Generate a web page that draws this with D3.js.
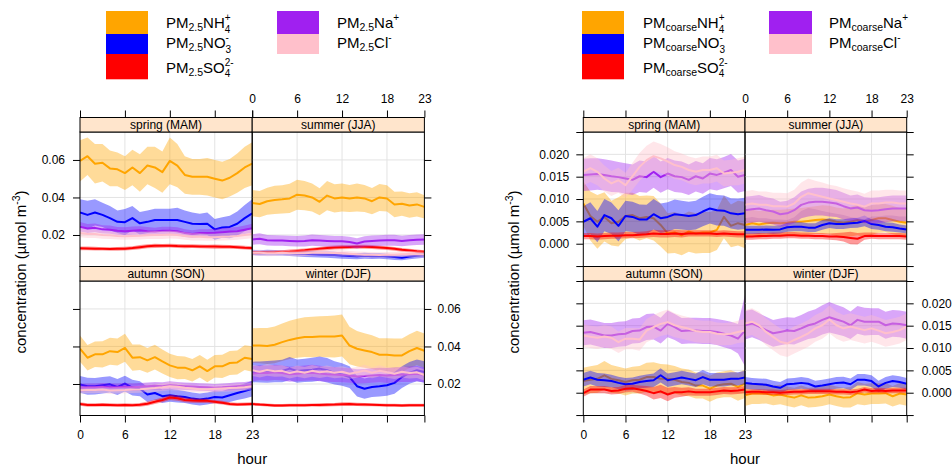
<!DOCTYPE html>
<html><head><meta charset="utf-8">
<script src="https://cdn.jsdelivr.net/npm/d3@7"></script>
<style>body{margin:0;background:#fff} svg{font-family:"Liberation Sans",Arial,sans-serif}</style>
</head><body><svg id="c" width="952" height="466"></svg>
<script>
// ---------------- categories / ticks ----------------
const seasonNames = ["spring (MAM)", "summer (JJA)", "autumn (SON)", "winter (DJF)"];
const seasonKeys = ["spr", "sum", "aut", "win"];
const ions = ["NH4", "NO3", "SO4", "Na", "Cl"];
const ionColors = ["#FFA500", "#0000FF", "#FF0000", "#A020F0", "#FFC0CB"];
const hours = d3.range(24);
const hourTicks = [0, 6, 12, 18, 23];
const fineTicks = [0.02, 0.04, 0.06];
const fineTickLabels = ["0.02", "0.04", "0.06"];
const coarseTicks = [-0.005, 0, 0.005, 0.01, 0.015, 0.02, 0.025];
const coarseTickLabels = ["", "0.000", "0.005", "0.010", "0.015", "0.020", ""];

// ---------------- PM2.5 (fine) : mean and half-width of band ----------------
const f_spr_NH4 = [0.0595,0.0620,0.0580,0.0585,0.0555,0.0550,0.0530,0.0560,0.0530,0.0570,0.0560,0.0535,0.0595,0.0570,0.0520,0.0510,0.0510,0.0510,0.0500,0.0490,0.0505,0.0530,0.0560,0.0580];
const f_spr_NH4_ci = [0.0110,0.0100,0.0105,0.0100,0.0095,0.0090,0.0090,0.0095,0.0100,0.0100,0.0110,0.0110,0.0125,0.0115,0.0100,0.0095,0.0095,0.0100,0.0100,0.0100,0.0100,0.0105,0.0110,0.0115];
const f_spr_NO3 = [0.0320,0.0307,0.0320,0.0307,0.0290,0.0270,0.0268,0.0290,0.0262,0.0270,0.0280,0.0280,0.0280,0.0280,0.0270,0.0260,0.0258,0.0260,0.0230,0.0240,0.0243,0.0260,0.0290,0.0315];
const f_spr_NO3_ci = [0.0070,0.0075,0.0070,0.0065,0.0065,0.0060,0.0070,0.0065,0.0060,0.0060,0.0060,0.0060,0.0060,0.0065,0.0060,0.0060,0.0055,0.0060,0.0055,0.0055,0.0060,0.0065,0.0070,0.0075];
const f_spr_SO4 = [0.0129,0.0128,0.0127,0.0126,0.0125,0.0126,0.0127,0.0130,0.0135,0.0140,0.0142,0.0142,0.0143,0.0141,0.0140,0.0140,0.0139,0.0138,0.0138,0.0137,0.0137,0.0135,0.0132,0.0130];
const f_spr_SO4_ci = [0.0010,0.0010,0.0010,0.0009,0.0009,0.0010,0.0010,0.0010,0.0011,0.0011,0.0011,0.0010,0.0010,0.0011,0.0011,0.0010,0.0010,0.0010,0.0011,0.0011,0.0010,0.0010,0.0010,0.0010];
const f_spr_Na = [0.0244,0.0235,0.0238,0.0230,0.0228,0.0222,0.0220,0.0223,0.0225,0.0220,0.0218,0.0222,0.0222,0.0220,0.0210,0.0205,0.0210,0.0210,0.0212,0.0215,0.0218,0.0220,0.0228,0.0236];
const f_spr_Na_ci = [0.0025,0.0024,0.0023,0.0022,0.0022,0.0021,0.0021,0.0022,0.0022,0.0022,0.0021,0.0022,0.0022,0.0021,0.0021,0.0020,0.0021,0.0021,0.0021,0.0022,0.0022,0.0022,0.0023,0.0024];
const f_spr_Cl = [0.0210,0.0205,0.0205,0.0200,0.0198,0.0195,0.0193,0.0195,0.0196,0.0198,0.0200,0.0200,0.0202,0.0200,0.0195,0.0190,0.0190,0.0188,0.0188,0.0190,0.0192,0.0195,0.0200,0.0205];
const f_spr_Cl_ci = [0.0022,0.0021,0.0021,0.0020,0.0020,0.0019,0.0019,0.0019,0.0020,0.0020,0.0021,0.0021,0.0021,0.0020,0.0020,0.0019,0.0019,0.0019,0.0019,0.0019,0.0020,0.0020,0.0021,0.0022];

const f_sum_NH4 = [0.0370,0.0365,0.0380,0.0387,0.0390,0.0395,0.0415,0.0410,0.0400,0.0377,0.0410,0.0395,0.0400,0.0395,0.0400,0.0395,0.0380,0.0400,0.0395,0.0363,0.0367,0.0357,0.0363,0.0350];
const f_sum_NH4_ci = [0.0070,0.0070,0.0072,0.0075,0.0075,0.0078,0.0080,0.0078,0.0075,0.0072,0.0078,0.0075,0.0075,0.0072,0.0075,0.0072,0.0070,0.0072,0.0070,0.0068,0.0065,0.0065,0.0065,0.0062];
const f_sum_NO3 = [0.0107,0.0105,0.0106,0.0105,0.0104,0.0102,0.0100,0.0098,0.0097,0.0096,0.0095,0.0093,0.0090,0.0088,0.0086,0.0089,0.0087,0.0088,0.0085,0.0082,0.0079,0.0085,0.0089,0.0092];
const f_sum_NO3_ci = [0.0014,0.0014,0.0015,0.0015,0.0014,0.0014,0.0015,0.0015,0.0016,0.0016,0.0017,0.0017,0.0017,0.0016,0.0016,0.0016,0.0015,0.0015,0.0015,0.0015,0.0014,0.0014,0.0014,0.0014];
const f_sum_SO4 = [0.0106,0.0106,0.0107,0.0108,0.0110,0.0112,0.0115,0.0118,0.0122,0.0126,0.0130,0.0133,0.0135,0.0136,0.0137,0.0137,0.0136,0.0133,0.0130,0.0126,0.0121,0.0117,0.0113,0.0110];
const f_sum_SO4_ci = [0.0009,0.0009,0.0009,0.0009,0.0009,0.0010,0.0010,0.0010,0.0010,0.0010,0.0011,0.0011,0.0011,0.0011,0.0011,0.0011,0.0011,0.0010,0.0010,0.0010,0.0010,0.0009,0.0009,0.0009];
const f_sum_Na = [0.0176,0.0180,0.0172,0.0170,0.0170,0.0168,0.0166,0.0168,0.0172,0.0170,0.0168,0.0166,0.0166,0.0163,0.0155,0.0165,0.0168,0.0170,0.0172,0.0172,0.0168,0.0172,0.0175,0.0176];
const f_sum_Na_ci = [0.0028,0.0029,0.0028,0.0028,0.0027,0.0028,0.0028,0.0029,0.0030,0.0030,0.0029,0.0029,0.0028,0.0028,0.0027,0.0028,0.0029,0.0029,0.0029,0.0029,0.0028,0.0028,0.0028,0.0028];
const f_sum_Cl = [0.0105,0.0105,0.0103,0.0103,0.0105,0.0103,0.0102,0.0103,0.0105,0.0106,0.0105,0.0104,0.0102,0.0100,0.0097,0.0095,0.0094,0.0093,0.0094,0.0095,0.0097,0.0098,0.0097,0.0096];
const f_sum_Cl_ci = [0.0016,0.0016,0.0016,0.0015,0.0015,0.0015,0.0015,0.0016,0.0016,0.0016,0.0016,0.0016,0.0016,0.0015,0.0015,0.0015,0.0015,0.0015,0.0015,0.0015,0.0015,0.0016,0.0016,0.0016];

const f_aut_NH4 = [0.0388,0.0340,0.0358,0.0358,0.0375,0.0370,0.0393,0.0340,0.0343,0.0326,0.0343,0.0320,0.0299,0.0287,0.0287,0.0273,0.0294,0.0269,0.0294,0.0294,0.0312,0.0315,0.0340,0.0333];
const f_aut_NH4_ci = [0.0070,0.0068,0.0068,0.0070,0.0072,0.0072,0.0075,0.0070,0.0068,0.0066,0.0066,0.0064,0.0062,0.0062,0.0060,0.0060,0.0060,0.0060,0.0060,0.0062,0.0064,0.0064,0.0066,0.0068];
const f_aut_NO3 = [0.0198,0.0188,0.0188,0.0193,0.0198,0.0184,0.0202,0.0181,0.0175,0.0144,0.0152,0.0135,0.0140,0.0135,0.0131,0.0122,0.0117,0.0122,0.0131,0.0128,0.0140,0.0152,0.0163,0.0175];
const f_aut_NO3_ci = [0.0045,0.0045,0.0044,0.0044,0.0043,0.0043,0.0042,0.0042,0.0040,0.0040,0.0038,0.0036,0.0035,0.0034,0.0032,0.0032,0.0032,0.0032,0.0033,0.0034,0.0036,0.0038,0.0040,0.0042];
const f_aut_SO4 = [0.0093,0.0088,0.0088,0.0089,0.0088,0.0087,0.0088,0.0087,0.0089,0.0095,0.0105,0.0115,0.0128,0.0124,0.0115,0.0112,0.0110,0.0110,0.0105,0.0100,0.0093,0.0091,0.0092,0.0093];
const f_aut_SO4_ci = [0.0009,0.0009,0.0009,0.0009,0.0009,0.0009,0.0009,0.0009,0.0010,0.0011,0.0012,0.0013,0.0014,0.0014,0.0013,0.0012,0.0011,0.0011,0.0010,0.0010,0.0009,0.0009,0.0009,0.0009];
const f_aut_Na = [0.0180,0.0182,0.0183,0.0185,0.0183,0.0182,0.0185,0.0183,0.0185,0.0188,0.0190,0.0188,0.0193,0.0190,0.0188,0.0186,0.0184,0.0182,0.0180,0.0182,0.0185,0.0188,0.0190,0.0195];
const f_aut_Na_ci = [0.0021,0.0021,0.0020,0.0020,0.0020,0.0020,0.0020,0.0020,0.0020,0.0020,0.0021,0.0021,0.0021,0.0021,0.0020,0.0020,0.0020,0.0020,0.0020,0.0020,0.0020,0.0021,0.0021,0.0021];
const f_aut_Cl = [0.0167,0.0168,0.0168,0.0170,0.0165,0.0167,0.0168,0.0170,0.0172,0.0175,0.0178,0.0182,0.0188,0.0185,0.0180,0.0176,0.0172,0.0172,0.0174,0.0176,0.0178,0.0180,0.0183,0.0188];
const f_aut_Cl_ci = [0.0018,0.0018,0.0018,0.0018,0.0018,0.0018,0.0018,0.0018,0.0019,0.0019,0.0020,0.0020,0.0021,0.0020,0.0019,0.0019,0.0018,0.0018,0.0018,0.0018,0.0018,0.0019,0.0019,0.0019];

const f_win_NH4 = [0.0405,0.0405,0.0402,0.0409,0.0423,0.0435,0.0444,0.0450,0.0450,0.0453,0.0453,0.0453,0.0458,0.0405,0.0388,0.0379,0.0370,0.0356,0.0356,0.0352,0.0352,0.0375,0.0392,0.0377];
const f_win_NH4_ci = [0.0092,0.0094,0.0096,0.0098,0.0100,0.0102,0.0104,0.0106,0.0108,0.0108,0.0110,0.0112,0.0112,0.0100,0.0095,0.0092,0.0090,0.0088,0.0088,0.0090,0.0090,0.0090,0.0092,0.0092];
const f_win_NO3 = [0.0264,0.0264,0.0264,0.0267,0.0269,0.0282,0.0269,0.0273,0.0276,0.0282,0.0273,0.0259,0.0250,0.0237,0.0188,0.0175,0.0184,0.0188,0.0193,0.0206,0.0237,0.0259,0.0273,0.0264];
const f_win_NO3_ci = [0.0055,0.0056,0.0058,0.0058,0.0060,0.0062,0.0062,0.0062,0.0064,0.0065,0.0065,0.0062,0.0060,0.0058,0.0055,0.0054,0.0054,0.0055,0.0056,0.0058,0.0058,0.0058,0.0058,0.0057];
const f_win_SO4 = [0.0093,0.0090,0.0088,0.0085,0.0085,0.0086,0.0087,0.0087,0.0088,0.0088,0.0089,0.0090,0.0092,0.0093,0.0091,0.0090,0.0089,0.0088,0.0087,0.0086,0.0085,0.0086,0.0087,0.0087];
const f_win_SO4_ci = [0.0008,0.0008,0.0008,0.0008,0.0008,0.0008,0.0008,0.0008,0.0008,0.0009,0.0009,0.0009,0.0010,0.0010,0.0009,0.0009,0.0008,0.0008,0.0008,0.0008,0.0008,0.0008,0.0008,0.0008];
const f_win_Na = [0.0255,0.0260,0.0258,0.0262,0.0258,0.0252,0.0255,0.0258,0.0260,0.0256,0.0252,0.0250,0.0248,0.0245,0.0240,0.0242,0.0245,0.0248,0.0245,0.0248,0.0250,0.0252,0.0255,0.0248];
const f_win_Na_ci = [0.0040,0.0040,0.0041,0.0041,0.0040,0.0040,0.0040,0.0041,0.0042,0.0041,0.0040,0.0040,0.0039,0.0039,0.0038,0.0038,0.0039,0.0039,0.0040,0.0040,0.0040,0.0041,0.0041,0.0040];
const f_win_Cl = [0.0273,0.0265,0.0275,0.0268,0.0270,0.0258,0.0268,0.0260,0.0270,0.0262,0.0268,0.0260,0.0265,0.0255,0.0262,0.0272,0.0260,0.0270,0.0262,0.0255,0.0265,0.0258,0.0262,0.0248];
const f_win_Cl_ci = [0.0030,0.0030,0.0031,0.0030,0.0030,0.0029,0.0030,0.0030,0.0031,0.0030,0.0030,0.0029,0.0030,0.0029,0.0029,0.0030,0.0029,0.0030,0.0029,0.0029,0.0030,0.0029,0.0030,0.0029];

// ---------------- PMcoarse : mean and half-width of band ----------------
const c_spr_NH4 = [0.0090,0.0062,0.0049,0.0060,0.0046,0.0049,0.0062,0.0064,0.0057,0.0060,0.0057,0.0042,0.0023,0.0025,0.0019,0.0027,0.0023,0.0025,0.0025,0.0031,0.0060,0.0040,0.0046,0.0042];
const c_spr_NH4_ci = [0.0050,0.0055,0.0060,0.0055,0.0050,0.0055,0.0052,0.0050,0.0050,0.0048,0.0050,0.0048,0.0045,0.0046,0.0045,0.0045,0.0045,0.0046,0.0046,0.0045,0.0048,0.0048,0.0050,0.0052];
const c_spr_NO3 = [0.0049,0.0057,0.0038,0.0064,0.0057,0.0040,0.0062,0.0060,0.0054,0.0054,0.0066,0.0057,0.0060,0.0066,0.0064,0.0062,0.0064,0.0072,0.0079,0.0075,0.0074,0.0068,0.0066,0.0068];
const c_spr_NO3_ci = [0.0035,0.0036,0.0035,0.0036,0.0035,0.0035,0.0034,0.0034,0.0034,0.0033,0.0034,0.0033,0.0033,0.0033,0.0032,0.0032,0.0032,0.0033,0.0034,0.0034,0.0034,0.0034,0.0035,0.0035];
const c_spr_SO4 = [0.0017,0.0017,0.0016,0.0017,0.0018,0.0018,0.0019,0.0019,0.0020,0.0021,0.0023,0.0022,0.0022,0.0023,0.0022,0.0023,0.0023,0.0023,0.0023,0.0022,0.0023,0.0022,0.0021,0.0021];
const c_spr_SO4_ci = [0.0007,0.0007,0.0007,0.0007,0.0007,0.0007,0.0007,0.0007,0.0007,0.0007,0.0008,0.0008,0.0008,0.0008,0.0008,0.0007,0.0007,0.0007,0.0007,0.0007,0.0007,0.0007,0.0007,0.0007];
const c_spr_Na = [0.0154,0.0155,0.0156,0.0154,0.0151,0.0149,0.0146,0.0143,0.0151,0.0149,0.0161,0.0149,0.0157,0.0151,0.0149,0.0143,0.0151,0.0146,0.0157,0.0154,0.0159,0.0165,0.0150,0.0154];
const c_spr_Na_ci = [0.0036,0.0036,0.0035,0.0035,0.0035,0.0034,0.0034,0.0034,0.0035,0.0035,0.0036,0.0035,0.0035,0.0035,0.0035,0.0034,0.0034,0.0034,0.0035,0.0035,0.0035,0.0036,0.0036,0.0036];
const c_spr_Cl = [0.0161,0.0169,0.0161,0.0146,0.0135,0.0142,0.0131,0.0151,0.0172,0.0187,0.0196,0.0191,0.0184,0.0176,0.0172,0.0165,0.0161,0.0165,0.0165,0.0169,0.0157,0.0159,0.0161,0.0165];
const c_spr_Cl_ci = [0.0030,0.0031,0.0030,0.0029,0.0028,0.0028,0.0028,0.0030,0.0031,0.0032,0.0033,0.0032,0.0032,0.0031,0.0030,0.0030,0.0030,0.0030,0.0030,0.0030,0.0029,0.0029,0.0030,0.0030];

const c_sum_NH4 = [0.0042,0.0046,0.0043,0.0046,0.0047,0.0046,0.0047,0.0049,0.0049,0.0051,0.0053,0.0054,0.0053,0.0049,0.0047,0.0049,0.0053,0.0049,0.0053,0.0057,0.0057,0.0053,0.0049,0.0047];
const c_sum_NH4_ci = [0.0030,0.0030,0.0030,0.0029,0.0029,0.0030,0.0030,0.0030,0.0031,0.0031,0.0031,0.0032,0.0032,0.0032,0.0032,0.0033,0.0034,0.0034,0.0033,0.0033,0.0032,0.0032,0.0031,0.0031];
const c_sum_NO3 = [0.0031,0.0031,0.0031,0.0032,0.0031,0.0032,0.0037,0.0038,0.0038,0.0036,0.0036,0.0042,0.0046,0.0044,0.0044,0.0046,0.0047,0.0051,0.0044,0.0042,0.0038,0.0037,0.0034,0.0032];
const c_sum_NO3_ci = [0.0009,0.0009,0.0009,0.0009,0.0009,0.0009,0.0010,0.0010,0.0010,0.0010,0.0010,0.0011,0.0011,0.0011,0.0011,0.0011,0.0011,0.0012,0.0011,0.0011,0.0010,0.0010,0.0009,0.0009];
const c_sum_SO4 = [0.0016,0.0016,0.0017,0.0017,0.0018,0.0018,0.0019,0.0019,0.0018,0.0018,0.0017,0.0017,0.0016,0.0016,0.0015,0.0013,0.0011,0.0017,0.0018,0.0017,0.0017,0.0017,0.0017,0.0016];
const c_sum_SO4_ci = [0.0007,0.0007,0.0007,0.0007,0.0007,0.0007,0.0007,0.0007,0.0007,0.0007,0.0007,0.0007,0.0007,0.0008,0.0010,0.0014,0.0013,0.0008,0.0007,0.0007,0.0007,0.0007,0.0007,0.0007];
const c_sum_Na = [0.0075,0.0077,0.0079,0.0075,0.0072,0.0066,0.0068,0.0075,0.0087,0.0092,0.0094,0.0094,0.0092,0.0090,0.0084,0.0079,0.0081,0.0075,0.0074,0.0075,0.0077,0.0079,0.0079,0.0079];
const c_sum_Na_ci = [0.0030,0.0030,0.0030,0.0029,0.0029,0.0028,0.0028,0.0029,0.0030,0.0031,0.0031,0.0031,0.0031,0.0030,0.0030,0.0029,0.0029,0.0029,0.0029,0.0029,0.0029,0.0029,0.0029,0.0029];
const c_sum_Cl = [0.0087,0.0090,0.0087,0.0087,0.0084,0.0084,0.0083,0.0090,0.0105,0.0113,0.0109,0.0105,0.0101,0.0098,0.0094,0.0090,0.0087,0.0083,0.0090,0.0090,0.0092,0.0092,0.0090,0.0090];
const c_sum_Cl_ci = [0.0030,0.0030,0.0030,0.0030,0.0030,0.0030,0.0030,0.0031,0.0032,0.0033,0.0032,0.0032,0.0031,0.0031,0.0030,0.0030,0.0030,0.0029,0.0029,0.0029,0.0029,0.0029,0.0029,0.0029];

const c_aut_NH4 = [0.0026,0.0029,0.0031,0.0039,0.0031,0.0028,0.0024,0.0028,0.0029,0.0035,0.0035,0.0031,0.0031,0.0029,0.0024,0.0022,0.0016,0.0016,0.0009,0.0016,0.0019,0.0020,0.0013,0.0020];
const c_aut_NH4_ci = [0.0030,0.0030,0.0031,0.0032,0.0031,0.0030,0.0030,0.0030,0.0031,0.0032,0.0033,0.0033,0.0032,0.0031,0.0030,0.0030,0.0029,0.0029,0.0029,0.0029,0.0029,0.0030,0.0031,0.0032];
const c_aut_NO3 = [0.0029,0.0034,0.0029,0.0028,0.0026,0.0022,0.0019,0.0020,0.0024,0.0026,0.0028,0.0039,0.0028,0.0031,0.0034,0.0031,0.0028,0.0035,0.0029,0.0029,0.0029,0.0031,0.0031,0.0034];
const c_aut_NO3_ci = [0.0015,0.0015,0.0015,0.0015,0.0014,0.0014,0.0014,0.0014,0.0014,0.0015,0.0015,0.0016,0.0015,0.0015,0.0015,0.0015,0.0015,0.0016,0.0015,0.0015,0.0015,0.0015,0.0015,0.0015];
const c_aut_SO4 = [-0.0001,0.0007,0.0007,0.0007,0.0004,0.0005,0.0009,0.0010,0.0007,0.0004,-0.0001,0.0003,-0.0004,0.0001,0.0001,0.0003,0.0001,0.0001,0.0001,0.0003,0.0005,0.0004,0.0005,0.0007];
const c_aut_SO4_ci = [0.0008,0.0008,0.0008,0.0008,0.0008,0.0008,0.0008,0.0008,0.0009,0.0011,0.0014,0.0015,0.0015,0.0012,0.0010,0.0009,0.0008,0.0008,0.0008,0.0008,0.0008,0.0008,0.0008,0.0008];
const c_aut_Na = [0.0134,0.0136,0.0132,0.0128,0.0128,0.0131,0.0132,0.0138,0.0139,0.0147,0.0148,0.0139,0.0154,0.0147,0.0138,0.0139,0.0139,0.0138,0.0138,0.0136,0.0132,0.0128,0.0121,0.0139];
const c_aut_Na_ci = [0.0028,0.0028,0.0028,0.0028,0.0028,0.0028,0.0028,0.0028,0.0028,0.0029,0.0029,0.0029,0.0030,0.0029,0.0029,0.0029,0.0029,0.0029,0.0029,0.0029,0.0030,0.0031,0.0033,0.0080];
const c_aut_Cl = [0.0128,0.0125,0.0123,0.0126,0.0123,0.0113,0.0121,0.0121,0.0119,0.0139,0.0147,0.0154,0.0158,0.0151,0.0147,0.0143,0.0138,0.0136,0.0136,0.0132,0.0131,0.0132,0.0136,0.0139];
const c_aut_Cl_ci = [0.0025,0.0025,0.0025,0.0025,0.0025,0.0024,0.0024,0.0024,0.0025,0.0026,0.0027,0.0027,0.0028,0.0027,0.0026,0.0026,0.0025,0.0025,0.0025,0.0025,0.0025,0.0025,0.0025,0.0026];

const c_win_NH4 = [-0.0006,-0.0002,-0.0002,-0.0002,-0.0006,-0.0004,-0.0008,-0.0011,-0.0006,-0.0011,-0.0010,-0.0008,-0.0004,-0.0008,-0.0011,-0.0010,-0.0001,-0.0004,-0.0002,-0.0002,-0.0001,-0.0008,-0.0002,-0.0004];
const c_win_NH4_ci = [0.0024,0.0023,0.0023,0.0022,0.0022,0.0022,0.0022,0.0022,0.0022,0.0022,0.0022,0.0022,0.0022,0.0022,0.0022,0.0023,0.0025,0.0024,0.0023,0.0023,0.0023,0.0023,0.0024,0.0025];
const c_win_NO3 = [0.0022,0.0020,0.0019,0.0018,0.0014,0.0011,0.0019,0.0020,0.0022,0.0020,0.0014,0.0016,0.0019,0.0022,0.0023,0.0019,0.0029,0.0029,0.0026,0.0014,0.0022,0.0026,0.0024,0.0020];
const c_win_NO3_ci = [0.0013,0.0013,0.0013,0.0013,0.0013,0.0013,0.0013,0.0013,0.0013,0.0013,0.0013,0.0013,0.0013,0.0013,0.0013,0.0013,0.0013,0.0013,0.0013,0.0013,0.0013,0.0013,0.0013,0.0013];
const c_win_SO4 = [0.0001,0.0002,0.0002,0.0001,0.0001,0.0000,0.0001,0.0002,0.0002,0.0003,0.0003,0.0003,0.0003,0.0002,0.0002,0.0001,0.0003,0.0007,0.0004,0.0005,0.0004,0.0005,0.0005,0.0005];
const c_win_SO4_ci = [0.0006,0.0006,0.0006,0.0006,0.0006,0.0006,0.0006,0.0006,0.0006,0.0006,0.0006,0.0006,0.0006,0.0006,0.0006,0.0006,0.0006,0.0006,0.0006,0.0006,0.0006,0.0006,0.0006,0.0006];
const c_win_Na = [0.0151,0.0155,0.0148,0.0140,0.0133,0.0136,0.0139,0.0138,0.0144,0.0151,0.0155,0.0163,0.0169,0.0164,0.0159,0.0151,0.0163,0.0159,0.0159,0.0159,0.0151,0.0155,0.0154,0.0151];
const c_win_Na_ci = [0.0032,0.0031,0.0030,0.0030,0.0030,0.0030,0.0030,0.0030,0.0030,0.0031,0.0032,0.0033,0.0034,0.0033,0.0032,0.0031,0.0031,0.0031,0.0030,0.0030,0.0030,0.0030,0.0030,0.0030];
const c_win_Cl = [0.0155,0.0159,0.0151,0.0136,0.0125,0.0114,0.0110,0.0118,0.0125,0.0133,0.0144,0.0151,0.0164,0.0151,0.0144,0.0148,0.0144,0.0140,0.0144,0.0139,0.0133,0.0136,0.0140,0.0148];
const c_win_Cl_ci = [0.0030,0.0030,0.0030,0.0030,0.0030,0.0030,0.0030,0.0030,0.0030,0.0030,0.0030,0.0030,0.0031,0.0030,0.0030,0.0030,0.0030,0.0030,0.0030,0.0030,0.0030,0.0030,0.0030,0.0030];

// lookup tables built from the named arrays
const fineTable = {
  spr: [[f_spr_NH4,f_spr_NH4_ci],[f_spr_NO3,f_spr_NO3_ci],[f_spr_SO4,f_spr_SO4_ci],[f_spr_Na,f_spr_Na_ci],[f_spr_Cl,f_spr_Cl_ci]],
  sum: [[f_sum_NH4,f_sum_NH4_ci],[f_sum_NO3,f_sum_NO3_ci],[f_sum_SO4,f_sum_SO4_ci],[f_sum_Na,f_sum_Na_ci],[f_sum_Cl,f_sum_Cl_ci]],
  aut: [[f_aut_NH4,f_aut_NH4_ci],[f_aut_NO3,f_aut_NO3_ci],[f_aut_SO4,f_aut_SO4_ci],[f_aut_Na,f_aut_Na_ci],[f_aut_Cl,f_aut_Cl_ci]],
  win: [[f_win_NH4,f_win_NH4_ci],[f_win_NO3,f_win_NO3_ci],[f_win_SO4,f_win_SO4_ci],[f_win_Na,f_win_Na_ci],[f_win_Cl,f_win_Cl_ci]]
};
const coarseTable = {
  spr: [[c_spr_NH4,c_spr_NH4_ci],[c_spr_NO3,c_spr_NO3_ci],[c_spr_SO4,c_spr_SO4_ci],[c_spr_Na,c_spr_Na_ci],[c_spr_Cl,c_spr_Cl_ci]],
  sum: [[c_sum_NH4,c_sum_NH4_ci],[c_sum_NO3,c_sum_NO3_ci],[c_sum_SO4,c_sum_SO4_ci],[c_sum_Na,c_sum_Na_ci],[c_sum_Cl,c_sum_Cl_ci]],
  aut: [[c_aut_NH4,c_aut_NH4_ci],[c_aut_NO3,c_aut_NO3_ci],[c_aut_SO4,c_aut_SO4_ci],[c_aut_Na,c_aut_Na_ci],[c_aut_Cl,c_aut_Cl_ci]],
  win: [[c_win_NH4,c_win_NH4_ci],[c_win_NO3,c_win_NO3_ci],[c_win_SO4,c_win_SO4_ci],[c_win_Na,c_win_Na_ci],[c_win_Cl,c_win_Cl_ci]]
};

const ionLabels = [
  {base: "NH", sub: "4", sup: "+"},
  {base: "NO", sub: "3", sup: "-"},
  {base: "SO", sub: "4", sup: "2-"},
  {base: "Na", sub: "", sup: "+"},
  {base: "Cl", sub: "", sup: "-"}
];

// ---------------- drawing ----------------
const svg = d3.select("#c");
const FONT = "'Liberation Sans', Arial, sans-serif";
const rowTops = [117.5, 266.5];
const stripH = 14.5, plotH = 134.5;
let clipId = 0;

function styleAxis(g, size) {
  g.select(".domain").remove();
  g.selectAll("line").attr("stroke", "#000").attr("stroke-width", 1);
  g.selectAll("text").attr("font-family", FONT).attr("font-size", size).attr("fill", "#000");
}

function drawPlot(cfg) {
  const g = svg.append("g");
  const xs = [0, 1].map(c => d3.scaleLinear().domain([0, 23]).range([cfg.x0 + c * cfg.pw, cfg.x0 + (c + 1) * cfg.pw]));
  const ys = [0, 1].map(r => d3.scaleLinear().domain(cfg.yDomain)
      .range([rowTops[r] + stripH + plotH, rowTops[r] + stripH]));
  const fmtFor = labels => (d) => labels[cfg.yTicks.indexOf(d)];
  const blank = () => "";

  seasonKeys.forEach((sk, si) => {
    const r = Math.floor(si / 2), c = si % 2;
    const x = xs[c], y = ys[r];
    const px0 = x.range()[0], px1 = x.range()[1];
    const py0 = y.range()[1], py1 = y.range()[0];
    const pg = g.append("g");
    const id = "clip" + (clipId++);
    pg.append("clipPath").attr("id", id).append("rect")
      .attr("x", px0).attr("y", py0).attr("width", px1 - px0).attr("height", py1 - py0);
    const grid = pg.append("g").attr("clip-path", `url(#${id})`);
    grid.selectAll("line.v").data([6, 12, 18]).join("line")
      .attr("x1", d => x(d)).attr("x2", d => x(d)).attr("y1", py0).attr("y2", py1)
      .attr("stroke", "#e3e3e3").attr("stroke-width", 1);
    grid.selectAll("line.h").data(cfg.gridTicks).join("line")
      .attr("x1", px0).attr("x2", px1).attr("y1", d => y(d)).attr("y2", d => y(d))
      .attr("stroke", "#e3e3e3").attr("stroke-width", 1);
    const marks = pg.append("g").attr("clip-path", `url(#${id})`);
    cfg.table[sk].forEach(([m, ci], k) => {
      const area = d3.area().x(h => x(h)).y0(h => y(m[h] - ci[h])).y1(h => y(m[h] + ci[h]));
      const line = d3.line().x(h => x(h)).y(h => y(m[h]));
      marks.append("path").attr("d", area(hours)).attr("fill", ionColors[k]).attr("fill-opacity", 0.4);
      marks.append("path").attr("d", line(hours)).attr("fill", "none").attr("stroke", ionColors[k])
        .attr("stroke-width", 2).attr("stroke-linejoin", "round");
    });
    pg.append("rect").attr("x", px0).attr("y", py0).attr("width", px1 - px0).attr("height", py1 - py0)
      .attr("fill", "none").attr("stroke", "#000").attr("stroke-width", 1);
    pg.append("rect").attr("x", px0).attr("y", rowTops[r]).attr("width", px1 - px0).attr("height", stripH)
      .attr("fill", "#FFE5CC").attr("stroke", "#000").attr("stroke-width", 1);
    pg.append("text").attr("x", (px0 + px1) / 2).attr("y", rowTops[r] + stripH / 2 + 4.3)
      .attr("text-anchor", "middle").attr("font-family", FONT).attr("font-size", 12).text(seasonNames[si]);
  });

  const tk = 7;
  [0, 1].forEach(c => {
    const ax = d3.axisTop(xs[c]).tickValues(hourTicks).tickSize(tk).tickPadding(7.8)
      .tickFormat(c === 1 ? d3.format("d") : blank);
    styleAxis(g.append("g").attr("transform", `translate(0,${rowTops[0]})`).call(ax), 12);
  });
  [0, 1].forEach(c => {
    const ax = d3.axisBottom(xs[c]).tickValues(hourTicks).tickSize(tk).tickPadding(8)
      .tickFormat(c === 0 ? d3.format("d") : blank);
    styleAxis(g.append("g").attr("transform", `translate(0,${ys[1].range()[0]})`).call(ax), 12);
  });
  [0, 1].forEach(r => {
    const ax = d3.axisLeft(ys[r]).tickValues(cfg.yTicks).tickSize(tk).tickPadding(cfg.padL)
      .tickFormat(r === 0 ? fmtFor(cfg.yLabels) : blank);
    styleAxis(g.append("g").attr("transform", `translate(${cfg.x0},0)`).call(ax), 12);
  });
  [0, 1].forEach(r => {
    const ax = d3.axisRight(ys[r]).tickValues(cfg.yTicks).tickSize(tk).tickPadding(cfg.padR)
      .tickFormat(r === 1 ? fmtFor(cfg.yLabels) : blank);
    styleAxis(g.append("g").attr("transform", `translate(${cfg.x0 + 2 * cfg.pw},0)`).call(ax), 12);
  });

  const yt = g.append("text").attr("transform", `translate(${cfg.ytX},272) rotate(-90)`)
    .attr("text-anchor", "middle").attr("font-family", FONT).attr("font-size", 15);
  yt.append("tspan").text("concentration (\u00B5mol m");
  yt.append("tspan").attr("font-size", 10.5).attr("dy", -6).text("-3");
  yt.append("tspan").attr("dy", 6).text(")");
  g.append("text").attr("x", cfg.x0 + cfg.pw).attr("y", 464).attr("text-anchor", "middle")
    .attr("font-family", FONT).attr("font-size", 15).text("hour");

  const rowsY = [[11, 23], [34, 20], [54, 25.3]];
  const baseY = [28.3, 48.3, 72.7];
  const place = [[0, 0], [0, 1], [0, 2], [1, 0], [1, 1]];
  ions.forEach((ion, k) => {
    const [col, row] = place[k];
    const L = cfg.legend[col];
    g.append("rect").attr("x", L.bx).attr("y", rowsY[row][0]).attr("width", L.bw).attr("height", rowsY[row][1])
      .attr("fill", ionColors[k]);
    legendLabel(g, L.tx, baseY[row], cfg.sizeSub, ionLabels[k]);
  });
}

// one text element per legend label; stacked sub/superscripts share the same x
function legendLabel(g, x, y, sizeSub, lab) {
  const t = g.append("text").attr("x", x).attr("y", y).attr("font-family", FONT).attr("font-size", 15);
  t.append("tspan").text("PM");
  t.append("tspan").attr("font-size", 10.5).attr("dy", 3).text(sizeSub);
  t.append("tspan").attr("dy", -3).text(lab.base);
  const endX = x + t.node().getComputedTextLength();
  if (lab.sub) {
    t.append("tspan").attr("x", endX).attr("dy", 4.5).attr("font-size", 10).text(lab.sub);
    t.append("tspan").attr("x", endX).attr("dy", -11.5).attr("font-size", 10).text(lab.sup);
  } else {
    t.append("tspan").attr("x", endX).attr("dy", -7).attr("font-size", 10).text(lab.sup);
  }
}

drawPlot({
  x0: 80, pw: 172.2, yDomain: [0.0032, 0.0749], yTicks: fineTicks, yLabels: fineTickLabels,
  gridTicks: fineTicks, table: fineTable, padL: 8, padR: 6, ytX: 25.5, sizeSub: "2.5",
  legend: [{bx: 106, bw: 42, tx: 166}, {bx: 277, bw: 42, tx: 337}]
});
drawPlot({
  x0: 583.3, pw: 161.7, yDomain: [-0.0051, 0.0250], yTicks: coarseTicks, yLabels: coarseTickLabels,
  gridTicks: [0, 0.005, 0.01, 0.015, 0.02], table: coarseTable, padL: 7, padR: 8, ytX: 518.5, sizeSub: "coarse",
  legend: [{bx: 582, bw: 42, tx: 643}, {bx: 769, bw: 43, tx: 829}]
});
</script></body></html>
